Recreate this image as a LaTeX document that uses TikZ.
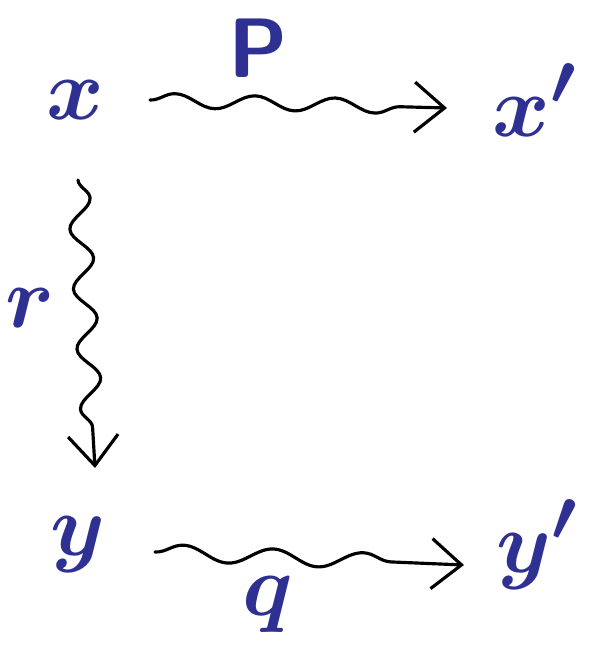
\documentclass[tikz,border=0pt]{standalone}
\usepackage{amsmath}
\usetikzlibrary{arrows.meta,decorations.pathmorphing}
\definecolor{inkblue}{HTML}{2E3192}
\begin{document}
\begin{tikzpicture}[x=0.01cm,y=-0.01cm,
    obj/.style={text=inkblue,font=\fontsize{30}{34}\selectfont\boldmath,inner sep=0pt},
    lbl/.style={text=inkblue,font=\fontsize{24}{28}\selectfont\boldmath,inner sep=0pt},
    wavy/.style={line width=0.9pt,line cap=round,decorate,
      decoration={snake,amplitude=0.7mm,segment length=8mm,post length=3mm},
      -{Straight Barb[length=3mm,width=5mm,line width=0.9pt]}}]
  \useasboundingbox (0,0) rectangle (605,654);
  % objects
  \node[obj] (x) at (75,100) {$x$};
  \node[obj] (xp) at (535,100) {$x'$};
  \node[obj] (y) at (78,545) {$y$};
  \node[obj] (yp) at (537,545) {$y'$};
  % labels
  \node[lbl,font=\fontsize{24}{28}\selectfont\sffamily\bfseries] (p) at (258,48) {P};
  \node[lbl] (r) at (30,308) {$r$};
  \node[lbl] (q) at (268,605) {$q$};
  % arrow ends
  \coordinate (ps) at (150,100);
  \coordinate (pe) at (447,108);
  \coordinate (rs) at (78,180);
  \coordinate (re) at (95,468);
  \coordinate (qs) at (155,552);
  \coordinate (qe) at (464,565);
  % arrows
  \draw[wavy] (ps) -- (pe);
  \draw[wavy,decoration={snake,amplitude=1.1mm,segment length=6mm,post length=3mm}]
    (rs) -- (re);
  \draw[wavy,decoration={snake,amplitude=0.8mm,segment length=9mm,post length=3mm}]
    (qs) -- (qe);
\end{tikzpicture}
\end{document}
